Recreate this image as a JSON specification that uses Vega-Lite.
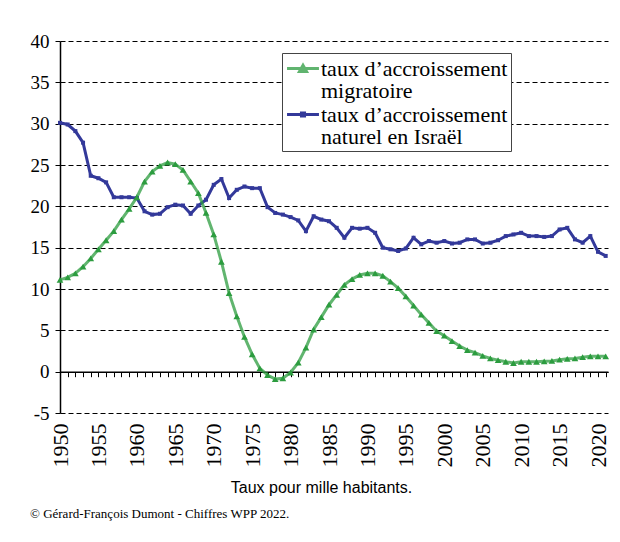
{
  "$schema": "https://vega.github.io/schema/vega-lite/v6.json",
  "width": 548,
  "height": 372,
  "autosize": {"type": "none"},
  "padding": {"left": 60, "top": 41, "right": 12, "bottom": 129},
  "background": "white",
  "config": {"view": {"stroke": null}, "font": "Liberation Serif"},
  "title": {"text": "© Gérard-François Dumont - Chiffres WPP 2022.", "orient": "bottom", "anchor": "start", "frame": "group", "dx": -30, "offset": 13, "font": "Liberation Serif", "fontSize": 13, "fontWeight": "normal", "color": "black"},
  "data": {"values": [
    {"annee": 1950, "serie": "naturel", "taux": 30.1},
    {"annee": 1951, "serie": "naturel", "taux": 29.9},
    {"annee": 1952, "serie": "naturel", "taux": 29.1},
    {"annee": 1953, "serie": "naturel", "taux": 27.7},
    {"annee": 1954, "serie": "naturel", "taux": 23.7},
    {"annee": 1955, "serie": "naturel", "taux": 23.4},
    {"annee": 1956, "serie": "naturel", "taux": 22.9},
    {"annee": 1957, "serie": "naturel", "taux": 21.1},
    {"annee": 1958, "serie": "naturel", "taux": 21.1},
    {"annee": 1959, "serie": "naturel", "taux": 21.1},
    {"annee": 1960, "serie": "naturel", "taux": 21.0},
    {"annee": 1961, "serie": "naturel", "taux": 19.4},
    {"annee": 1962, "serie": "naturel", "taux": 19.0},
    {"annee": 1963, "serie": "naturel", "taux": 19.1},
    {"annee": 1964, "serie": "naturel", "taux": 19.9},
    {"annee": 1965, "serie": "naturel", "taux": 20.2},
    {"annee": 1966, "serie": "naturel", "taux": 20.1},
    {"annee": 1967, "serie": "naturel", "taux": 19.1},
    {"annee": 1968, "serie": "naturel", "taux": 20.1},
    {"annee": 1969, "serie": "naturel", "taux": 20.8},
    {"annee": 1970, "serie": "naturel", "taux": 22.6},
    {"annee": 1971, "serie": "naturel", "taux": 23.3},
    {"annee": 1972, "serie": "naturel", "taux": 21.0},
    {"annee": 1973, "serie": "naturel", "taux": 22.0},
    {"annee": 1974, "serie": "naturel", "taux": 22.4},
    {"annee": 1975, "serie": "naturel", "taux": 22.2},
    {"annee": 1976, "serie": "naturel", "taux": 22.2},
    {"annee": 1977, "serie": "naturel", "taux": 19.9},
    {"annee": 1978, "serie": "naturel", "taux": 19.2},
    {"annee": 1979, "serie": "naturel", "taux": 19.0},
    {"annee": 1980, "serie": "naturel", "taux": 18.7},
    {"annee": 1981, "serie": "naturel", "taux": 18.3},
    {"annee": 1982, "serie": "naturel", "taux": 17.0},
    {"annee": 1983, "serie": "naturel", "taux": 18.8},
    {"annee": 1984, "serie": "naturel", "taux": 18.4},
    {"annee": 1985, "serie": "naturel", "taux": 18.2},
    {"annee": 1986, "serie": "naturel", "taux": 17.4},
    {"annee": 1987, "serie": "naturel", "taux": 16.2},
    {"annee": 1988, "serie": "naturel", "taux": 17.4},
    {"annee": 1989, "serie": "naturel", "taux": 17.3},
    {"annee": 1990, "serie": "naturel", "taux": 17.4},
    {"annee": 1991, "serie": "naturel", "taux": 16.8},
    {"annee": 1992, "serie": "naturel", "taux": 15.0},
    {"annee": 1993, "serie": "naturel", "taux": 14.8},
    {"annee": 1994, "serie": "naturel", "taux": 14.6},
    {"annee": 1995, "serie": "naturel", "taux": 14.9},
    {"annee": 1996, "serie": "naturel", "taux": 16.2},
    {"annee": 1997, "serie": "naturel", "taux": 15.4},
    {"annee": 1998, "serie": "naturel", "taux": 15.8},
    {"annee": 1999, "serie": "naturel", "taux": 15.6},
    {"annee": 2000, "serie": "naturel", "taux": 15.8},
    {"annee": 2001, "serie": "naturel", "taux": 15.5},
    {"annee": 2002, "serie": "naturel", "taux": 15.6},
    {"annee": 2003, "serie": "naturel", "taux": 16.0},
    {"annee": 2004, "serie": "naturel", "taux": 16.0},
    {"annee": 2005, "serie": "naturel", "taux": 15.5},
    {"annee": 2006, "serie": "naturel", "taux": 15.6},
    {"annee": 2007, "serie": "naturel", "taux": 15.9},
    {"annee": 2008, "serie": "naturel", "taux": 16.4},
    {"annee": 2009, "serie": "naturel", "taux": 16.6},
    {"annee": 2010, "serie": "naturel", "taux": 16.8},
    {"annee": 2011, "serie": "naturel", "taux": 16.4},
    {"annee": 2012, "serie": "naturel", "taux": 16.4},
    {"annee": 2013, "serie": "naturel", "taux": 16.3},
    {"annee": 2014, "serie": "naturel", "taux": 16.4},
    {"annee": 2015, "serie": "naturel", "taux": 17.2},
    {"annee": 2016, "serie": "naturel", "taux": 17.4},
    {"annee": 2017, "serie": "naturel", "taux": 16.0},
    {"annee": 2018, "serie": "naturel", "taux": 15.6},
    {"annee": 2019, "serie": "naturel", "taux": 16.4},
    {"annee": 2020, "serie": "naturel", "taux": 14.5},
    {"annee": 2021, "serie": "naturel", "taux": 14.0},
    {"annee": 1950, "serie": "migratoire", "taux": 11.1},
    {"annee": 1951, "serie": "migratoire", "taux": 11.4},
    {"annee": 1952, "serie": "migratoire", "taux": 11.9},
    {"annee": 1953, "serie": "migratoire", "taux": 12.7},
    {"annee": 1954, "serie": "migratoire", "taux": 13.7},
    {"annee": 1955, "serie": "migratoire", "taux": 14.8},
    {"annee": 1956, "serie": "migratoire", "taux": 15.9},
    {"annee": 1957, "serie": "migratoire", "taux": 17.0},
    {"annee": 1958, "serie": "migratoire", "taux": 18.4},
    {"annee": 1959, "serie": "migratoire", "taux": 19.7},
    {"annee": 1960, "serie": "migratoire", "taux": 21.1},
    {"annee": 1961, "serie": "migratoire", "taux": 23.0},
    {"annee": 1962, "serie": "migratoire", "taux": 24.2},
    {"annee": 1963, "serie": "migratoire", "taux": 24.9},
    {"annee": 1964, "serie": "migratoire", "taux": 25.3},
    {"annee": 1965, "serie": "migratoire", "taux": 25.1},
    {"annee": 1966, "serie": "migratoire", "taux": 24.4},
    {"annee": 1967, "serie": "migratoire", "taux": 23.0},
    {"annee": 1968, "serie": "migratoire", "taux": 21.6},
    {"annee": 1969, "serie": "migratoire", "taux": 19.2},
    {"annee": 1970, "serie": "migratoire", "taux": 16.6},
    {"annee": 1971, "serie": "migratoire", "taux": 13.3},
    {"annee": 1972, "serie": "migratoire", "taux": 9.5},
    {"annee": 1973, "serie": "migratoire", "taux": 6.7},
    {"annee": 1974, "serie": "migratoire", "taux": 4.2},
    {"annee": 1975, "serie": "migratoire", "taux": 2.1},
    {"annee": 1976, "serie": "migratoire", "taux": 0.4},
    {"annee": 1977, "serie": "migratoire", "taux": -0.4},
    {"annee": 1978, "serie": "migratoire", "taux": -0.9},
    {"annee": 1979, "serie": "migratoire", "taux": -0.8},
    {"annee": 1980, "serie": "migratoire", "taux": -0.1},
    {"annee": 1981, "serie": "migratoire", "taux": 1.1},
    {"annee": 1982, "serie": "migratoire", "taux": 2.9},
    {"annee": 1983, "serie": "migratoire", "taux": 5.1},
    {"annee": 1984, "serie": "migratoire", "taux": 6.6},
    {"annee": 1985, "serie": "migratoire", "taux": 8.1},
    {"annee": 1986, "serie": "migratoire", "taux": 9.3},
    {"annee": 1987, "serie": "migratoire", "taux": 10.5},
    {"annee": 1988, "serie": "migratoire", "taux": 11.2},
    {"annee": 1989, "serie": "migratoire", "taux": 11.7},
    {"annee": 1990, "serie": "migratoire", "taux": 11.9},
    {"annee": 1991, "serie": "migratoire", "taux": 11.9},
    {"annee": 1992, "serie": "migratoire", "taux": 11.6},
    {"annee": 1993, "serie": "migratoire", "taux": 10.9},
    {"annee": 1994, "serie": "migratoire", "taux": 10.1},
    {"annee": 1995, "serie": "migratoire", "taux": 9.1},
    {"annee": 1996, "serie": "migratoire", "taux": 8.0},
    {"annee": 1997, "serie": "migratoire", "taux": 6.9},
    {"annee": 1998, "serie": "migratoire", "taux": 5.9},
    {"annee": 1999, "serie": "migratoire", "taux": 4.9},
    {"annee": 2000, "serie": "migratoire", "taux": 4.35},
    {"annee": 2001, "serie": "migratoire", "taux": 3.7},
    {"annee": 2002, "serie": "migratoire", "taux": 3.1},
    {"annee": 2003, "serie": "migratoire", "taux": 2.6},
    {"annee": 2004, "serie": "migratoire", "taux": 2.3},
    {"annee": 2005, "serie": "migratoire", "taux": 1.9},
    {"annee": 2006, "serie": "migratoire", "taux": 1.6},
    {"annee": 2007, "serie": "migratoire", "taux": 1.4},
    {"annee": 2008, "serie": "migratoire", "taux": 1.2},
    {"annee": 2009, "serie": "migratoire", "taux": 1.05},
    {"annee": 2010, "serie": "migratoire", "taux": 1.2},
    {"annee": 2011, "serie": "migratoire", "taux": 1.2},
    {"annee": 2012, "serie": "migratoire", "taux": 1.2},
    {"annee": 2013, "serie": "migratoire", "taux": 1.25},
    {"annee": 2014, "serie": "migratoire", "taux": 1.3},
    {"annee": 2015, "serie": "migratoire", "taux": 1.45},
    {"annee": 2016, "serie": "migratoire", "taux": 1.55},
    {"annee": 2017, "serie": "migratoire", "taux": 1.6},
    {"annee": 2018, "serie": "migratoire", "taux": 1.75},
    {"annee": 2019, "serie": "migratoire", "taux": 1.85},
    {"annee": 2020, "serie": "migratoire", "taux": 1.85},
    {"annee": 2021, "serie": "migratoire", "taux": 1.85}
  ]},
  "encoding": {
    "y": {"field": "taux", "type": "quantitative", "scale": {"domain": [-5, 40], "nice": false, "zero": false},
      "axis": {"values": [-5, 0, 5, 10, 15, 20, 25, 30, 35, 40], "labelExpr": "datum.value < 0 ? '-' + abs(datum.value) : '' + datum.value", "labelFont": "Liberation Serif", "labelFontSize": 19, "labelColor": "black", "labelPadding": 6, "tickColor": "black", "tickSize": 5, "domainColor": "black", "domainWidth": 1.5, "grid": true, "gridColor": "black", "gridDash": [5, 3], "gridWidth": 1, "title": null}},
    "color": {"field": "serie", "type": "nominal", "scale": {"domain": ["migratoire", "naturel"], "range": ["#2C9C3F", "#33399A"]},
      "legend": {"orient": "none", "legendX": 222, "legendY": 12, "title": null, "labelFont": "Liberation Serif", "labelFontSize": 22, "labelColor": "black", "labelLimit": 400, "labelOffset": 11,
        "labelExpr": "datum.value == 'migratoire' ? ['taux d’accroissement', 'migratoire'] : ['taux d’accroissement', 'naturel en Israël']",
        "fillColor": "white", "strokeColor": "#444", "padding": 3, "rowPadding": -6, "symbolSize": 484, "symbolStrokeWidth": 3,
        "symbolType": "M-0.95,0H1.95M0.18,0.27L0.5,-0.3L0.82,0.27Z",
        "encode": {
          "symbols": {"update": {
            "shape": {"signal": "datum.value == 'migratoire' ? 'M-0.95,0H1.95M0.18,0.27L0.5,-0.3L0.82,0.27Z' : 'M-0.95,0H1.95M0.36,0.14H0.64V-0.14H0.36Z'"},
            "fill": {"signal": "scale('color', datum.value)"},
            "stroke": {"signal": "scale('color', datum.value)"},
            "strokeWidth": {"value": 3},
            "opacity": {"value": 1}
          }},
          "labels": {"update": {"lineHeight": {"value": 22}}}
        }}}
  },
  "layer": [
    {
      "mark": {"type": "line", "strokeWidth": 3},
      "encoding": {
        "x": {"field": "annee", "type": "quantitative", "scale": {"domain": [1950, 2021.3], "nice": false, "zero": false},
          "axis": {"orient": "bottom", "offset": -41.3, "values": [1950,1951,1952,1953,1954,1955,1956,1957,1958,1959,1960,1961,1962,1963,1964,1965,1966,1967,1968,1969,1970,1971,1972,1973,1974,1975,1976,1977,1978,1979,1980,1981,1982,1983,1984,1985,1986,1987,1988,1989,1990,1991,1992,1993,1994,1995,1996,1997,1998,1999,2000,2001,2002,2003,2004,2005,2006,2007,2008,2009,2010,2011,2012,2013,2014,2015,2016,2017,2018,2019,2020,2021],
            "labels": false, "ticks": true, "tickSize": 5, "tickColor": "black", "domain": true, "domainColor": "black", "domainWidth": 1.5, "grid": false, "title": null}},
        "opacity": {"field": "serie", "type": "nominal", "scale": {"domain": ["migratoire", "naturel"], "range": [0.75, 1]}, "legend": null}
      }
    },
    {
      "transform": [{"filter": "datum.serie == 'naturel'"}],
      "mark": {"type": "point", "filled": true, "opacity": 1, "shape": "square", "size": 16},
      "encoding": {
        "x": {"field": "annee", "type": "quantitative", "scale": {"domain": [1950, 2021.3], "nice": false, "zero": false},
          "axis": {"orient": "bottom", "values": [1950,1955,1960,1965,1970,1975,1980,1985,1990,1995,2000,2005,2010,2015,2020], "format": "d", "labelAngle": -90, "labelFlush": false, "labelOverlap": false, "domain": false, "ticks": false, "grid": false, "labelPadding": 10, "labelFont": "Liberation Serif", "labelFontSize": 22, "labelColor": "black",
            "title": "Taux pour mille habitants.", "titleFont": "Liberation Sans", "titleFontSize": 16, "titleFontWeight": "normal", "titleColor": "black", "titlePadding": 12, "titleX": 261}}
      }
    },
    {
      "transform": [{"filter": "datum.serie == 'migratoire'"}],
      "mark": {"type": "point", "filled": true, "opacity": 1, "shape": "triangle-up", "size": 45},
      "encoding": {
        "x": {"field": "annee", "type": "quantitative", "scale": {"domain": [1950, 2021.3], "nice": false, "zero": false}, "axis": null}
      }
    }
  ],
  "resolve": {"axis": {"x": "independent"}}
}
